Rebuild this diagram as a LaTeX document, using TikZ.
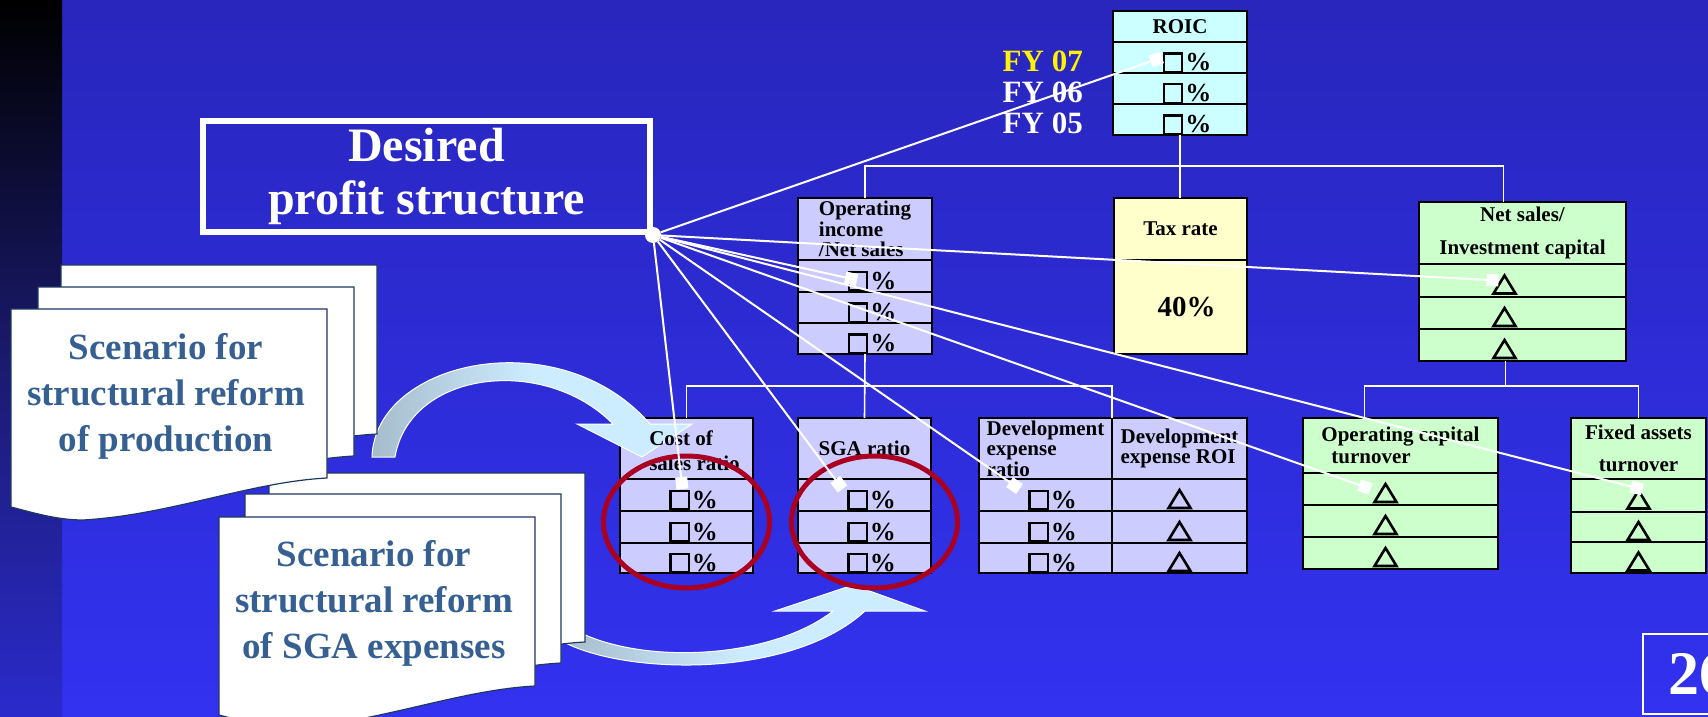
\documentclass[tikz,border=0pt]{standalone}
\usepackage{fontspec}
\setmainfont{Liberation Serif}
\usepackage{xcolor}
\usepackage{tikz}
\usetikzlibrary{arrows.meta, positioning, calc}
\definecolor{slidetop}{RGB}{40, 38, 188}
\definecolor{slidebot}{RGB}{50, 50, 240}
\definecolor{stripmid}{RGB}{26, 26, 110}
\definecolor{lavender}{RGB}{204, 204, 255}
\definecolor{paleaqua}{RGB}{204, 255, 255}
\definecolor{paleyellow}{RGB}{255, 255, 204}
\definecolor{palegreen}{RGB}{204, 255, 204}
\definecolor{ringred}{RGB}{170, 0, 34}
\definecolor{scenarioblue}{RGB}{54, 96, 146}
\definecolor{pageedge}{RGB}{31, 56, 96}
\definecolor{arrowcyan}{RGB}{204, 236, 255}
\definecolor{arrowgray}{RGB}{166, 188, 204}
\newcommand{\cellfont}{\fontsize{21}{20.5}\selectfont\bfseries}
\newcommand{\valfont}{\fontsize{26}{26}\selectfont\bfseries}
\newcommand{\boxsym}{{\setlength{\fboxrule}{2.4pt}\setlength{\fboxsep}{0pt}\fbox{\rule{0pt}{16pt}\hspace{16pt}}}}
\newcommand{\trisym}{\tikz[baseline=0pt]\draw[line width=2.6pt, line join=miter] (0pt,0pt) -- (22pt,0pt) -- (11pt,18pt) -- cycle;}
\newcommand{\pct}{\hspace*{14pt}\boxsym\hspace{2pt}\%}
\tikzset{
  cellbox/.style={
    rectangle, draw=black, line width=2.8pt, outer sep=0pt, anchor=north west
  },
  hdrcell/.style={cellbox, inner xsep=4pt, inner ysep=0pt, font=\cellfont},
  valcell/.style={
    cellbox, inner xsep=0pt, inner ysep=0pt,
    text height=26pt, text depth=0pt, font=\valfont
  },
  roiccell/.style={fill=paleaqua, minimum width=134pt},
  opcell/.style={fill=lavender, minimum width=134pt},
  taxcell/.style={fill=paleyellow, minimum width=133pt},
  nscell/.style={fill=palegreen, minimum width=207pt},
  lavcell/.style={fill=lavender, minimum width=133pt},
  greencell/.style={fill=palegreen, minimum width=135pt},
  fylabel/.style={inner sep=0pt, font=\fontsize{31}{31}\selectfont\bfseries},
  desiredbox/.style={
    rectangle, draw=white, line width=6pt, minimum width=447pt,
    minimum height=111pt, align=center, text=white, inner sep=0pt,
    font=\fontsize{48}{53}\selectfont\bfseries
  },
  hubdot/.style={circle, fill=white, minimum size=16pt, inner sep=0pt},
  pagesheet/.style={fill=white, draw=pageedge, line width=1.2pt},
  scenariotext/.style={
    align=center, text=scenarioblue,
    font=\fontsize{37}{46}\selectfont\bfseries
  },
  curvearrow/.style={
    draw=white, line width=1pt,
    left color=arrowgray, right color=arrowcyan, middle color=arrowcyan
  },
  ringline/.style={draw=ringred, line width=5pt},
  treeline/.style={draw=white, line width=1.6pt},
  hubline/.style={
    draw=white, line width=2pt, -{Square[length=12pt, width=12pt]}
  },
  pagebox/.style={
    anchor=north west, draw=white, line width=2pt, minimum height=80pt,
    text width=60pt, inner xsep=25pt, align=left, text=white,
    font=\fontsize{62}{62}\selectfont\bfseries
  }
}

\begin{document}
\begin{tikzpicture}[x=1pt, y=-1pt]
  \useasboundingbox (0,0) rectangle (1708,717);
  \fill[top color=slidetop, bottom color=slidebot] (0,0) rectangle (1708,717);
  \fill[top color=black, bottom color=slidebot!85!black, middle color=stripmid] (0,0) rectangle (62,717);

  % ROIC
  \node[hdrcell, roiccell, minimum height=31pt] (roic_hdr) at (1113,11) {ROIC};
  \node[valcell, roiccell, minimum height=31pt, below=0pt of roic_hdr] (roic_r1) {\pct};
  \node[valcell, roiccell, minimum height=31pt, below=0pt of roic_r1] (roic_r2) {\pct};
  \node[valcell, roiccell, minimum height=31pt, below=0pt of roic_r2] (roic_r3) {\pct};

  \node[fylabel, text=yellow, left=30pt of roic_r1, yshift=-4pt] (fy07) {FY 07};
  \node[fylabel, text=white, left=30pt of roic_r2, yshift=-4pt] (fy06) {FY 06};
  \node[fylabel, text=white, left=30pt of roic_r3, yshift=-4pt] (fy05) {FY 05};

  % second level
  \node[hdrcell, opcell, minimum height=62pt, align=left] (opinc_hdr) at (798,198) {Operating\\income\\/Net sales};
  \node[valcell, opcell, minimum height=32pt, below=0pt of opinc_hdr] (opinc_r1) {\pct};
  \node[valcell, opcell, minimum height=31pt, below=0pt of opinc_r1] (opinc_r2) {\pct};
  \node[valcell, opcell, minimum height=31pt, below=0pt of opinc_r2] (opinc_r3) {\pct};

  \node[hdrcell, taxcell, minimum height=62pt] (tax_hdr) at (1114,198) {Tax rate};
  \node[cellbox, taxcell, minimum height=94pt, inner sep=0pt, font=\fontsize{29}{29}\selectfont\bfseries, below=0pt of tax_hdr] (tax_val) {\hspace*{12pt}40\%};

  \node[hdrcell, nscell, minimum height=62pt, align=center, font=\fontsize{21}{33}\selectfont\bfseries] (netsales_hdr) at (1419,202) {Net sales/\\Investment capital};
  \node[valcell, nscell, minimum height=33pt, below=0pt of netsales_hdr] (netsales_r1) {\trisym\hspace*{36pt}};
  \node[valcell, nscell, minimum height=32pt, below=0pt of netsales_r1] (netsales_r2) {\trisym\hspace*{36pt}};
  \node[valcell, nscell, minimum height=32pt, below=0pt of netsales_r2] (netsales_r3) {\trisym\hspace*{36pt}};

  % third level
  \node[hdrcell, lavcell, minimum height=61pt] (cost_hdr) at (620,418) {};
  \node[valcell, lavcell, minimum height=32pt, below=0pt of cost_hdr] (cost_r1) {\pct};
  \node[valcell, lavcell, minimum height=32pt, below=0pt of cost_r1] (cost_r2) {\pct};
  \node[valcell, lavcell, minimum height=30pt, below=0pt of cost_r2] (cost_r3) {\pct};

  \node[hdrcell, lavcell, minimum height=61pt] (sga_hdr) at (798,418) {SGA ratio};
  \node[valcell, lavcell, minimum height=32pt, below=0pt of sga_hdr] (sga_r1) {\pct};
  \node[valcell, lavcell, minimum height=32pt, below=0pt of sga_r1] (sga_r2) {\pct};
  \node[valcell, lavcell, minimum height=30pt, below=0pt of sga_r2] (sga_r3) {\pct};

  \node[hdrcell, lavcell, minimum height=61pt, align=left] (devratio_hdr) at (979,418) {Development\\expense\\ratio};
  \node[valcell, lavcell, minimum height=32pt, below=0pt of devratio_hdr] (devratio_r1) {\pct};
  \node[valcell, lavcell, minimum height=32pt, below=0pt of devratio_r1] (devratio_r2) {\pct};
  \node[valcell, lavcell, minimum height=30pt, below=0pt of devratio_r2] (devratio_r3) {\pct};

  \node[hdrcell, lavcell, minimum width=135pt, minimum height=61pt, align=left] (devroi_hdr) at (1112,418) {Development\\expense ROI};
  \node[valcell, lavcell, minimum width=135pt, minimum height=32pt, below=0pt of devroi_hdr] (devroi_r1) {\trisym};
  \node[valcell, lavcell, minimum width=135pt, minimum height=32pt, below=0pt of devroi_r1] (devroi_r2) {\trisym};
  \node[valcell, lavcell, minimum width=135pt, minimum height=30pt, below=0pt of devroi_r2] (devroi_r3) {\trisym};

  \node[hdrcell, greencell, minimum width=195pt, minimum height=55pt, align=left, font=\fontsize{21}{22}\selectfont\bfseries] (opcap_hdr) at (1303,418) {Operating capital\\\hspace*{10pt}turnover};
  \node[valcell, greencell, minimum width=195pt, minimum height=32pt, below=0pt of opcap_hdr] (opcap_r1) {\trisym\hspace*{30pt}};
  \node[valcell, greencell, minimum width=195pt, minimum height=32pt, below=0pt of opcap_r1] (opcap_r2) {\trisym\hspace*{30pt}};
  \node[valcell, greencell, minimum width=195pt, minimum height=32pt, below=0pt of opcap_r2] (opcap_r3) {\trisym\hspace*{30pt}};

  \node[hdrcell, greencell, minimum height=61pt, align=center, font=\fontsize{21}{32}\selectfont\bfseries] (fixed_hdr) at (1571,418) {Fixed assets\\turnover};
  \node[valcell, greencell, minimum height=33pt, below=0pt of fixed_hdr] (fixed_r1) {\trisym};
  \node[valcell, greencell, minimum height=30pt, below=0pt of fixed_r1] (fixed_r2) {\trisym};
  \node[valcell, greencell, minimum height=31pt, below=0pt of fixed_r2] (fixed_r3) {\trisym};

  % tree
  \draw[treeline] (roic_r3.south) -- ++(0,31) coordinate (top_bus);
  \draw[treeline] (opinc_hdr.north) |- (top_bus) -| ([xshift=-19pt]netsales_hdr.north);
  \draw[treeline] (top_bus) -- (top_bus |- tax_hdr.north);
  \draw[treeline] (opinc_r3.south) -- (sga_hdr.north);
  \draw[treeline] (cost_hdr.north) -- ++(0,-32) -| (devratio_hdr.north east);
  \draw[treeline] ([xshift=-17pt]netsales_r3.south) -- ++(0,25) coordinate (right_bus);
  \draw[treeline] ([xshift=-36pt]opcap_hdr.north) |- (right_bus) -| (fixed_hdr.north);

  % scenario stacks
  \filldraw[curvearrow] (560,640) .. controls (620,675) and (790,680) .. (865,611)
    -- (925,611) -- (853,585) -- (775,611) -- (833,611)
    .. controls (770,660) and (640,665) .. (575,630) -- cycle;
  \foreach \px/\py in {269/473, 245/494, 219/517} {
    \filldraw[pagesheet, shift={(\px,\py)}] (0,0) -- (316,0) -- (316,169)
      .. controls (239,173) and (159,206) .. (72,211)
      .. controls (45,211) and (20,203) .. (0,198) -- cycle;
  }
  \node[scenariotext] (scen_sga) at (374,603) {Scenario for\\structural reform\\of SGA expenses};

  \filldraw[curvearrow] (372,457) .. controls (375,360) and (560,320) .. (650,424)
    -- (692,424) -- (642,457) -- (577,424) -- (613,424)
    .. controls (545,355) and (410,370) .. (395,457) -- cycle;
  \foreach \px/\py in {61/265, 38/287, 11/309} {
    \filldraw[pagesheet, shift={(\px,\py)}] (0,0) -- (316,0) -- (316,169)
      .. controls (239,173) and (159,206) .. (72,211)
      .. controls (45,211) and (20,203) .. (0,198) -- cycle;
  }
  \node[scenariotext] (scen_prod) at (166,396) {Scenario for\\structural reform\\of production};
  \node[align=left, font=\fontsize{21}{25}\selectfont\bfseries, xshift=8pt, yshift=-2pt] (cost_label) at (cost_hdr.center) {Cost of\\sales ratio};

  \draw[ringline] ([yshift=5pt]cost_r2.center) ellipse [x radius=83pt, y radius=66pt];
  \draw[ringline] ([xshift=10pt, yshift=5pt]sga_r2.center) ellipse [x radius=83pt, y radius=66pt];

  % desired profit structure
  \node[desiredbox] (desired) at (426.5,176.5) {Desired\\profit structure};
  \node[hubdot] (hub) at (desired.south east) {};

  \draw[hubline] (hub) -- ([xshift=-18pt]roic_r1.center);
  \draw[hubline] (hub) -- ([xshift=-8pt, yshift=-4pt]opinc_r1.center);
  \draw[hubline] (hub) -- ([xshift=-24pt]netsales_r1.center);
  \draw[hubline] (hub) -- ([xshift=-4pt, yshift=6pt]cost_r1.center);
  \draw[hubline] (hub) -- ([xshift=-22pt, yshift=6pt]sga_r1.center);
  \draw[hubline] (hub) -- ([xshift=-26pt, yshift=6pt]devratio_r1.center);
  \draw[hubline] (hub) -- ([xshift=-30pt]opcap_r1.center);
  \draw[hubline] (hub) -- ([xshift=4pt, yshift=6pt]fixed_r1.center);

  \node[pagebox] (page_no) at (1642,633) {26};
\end{tikzpicture}
\end{document}
